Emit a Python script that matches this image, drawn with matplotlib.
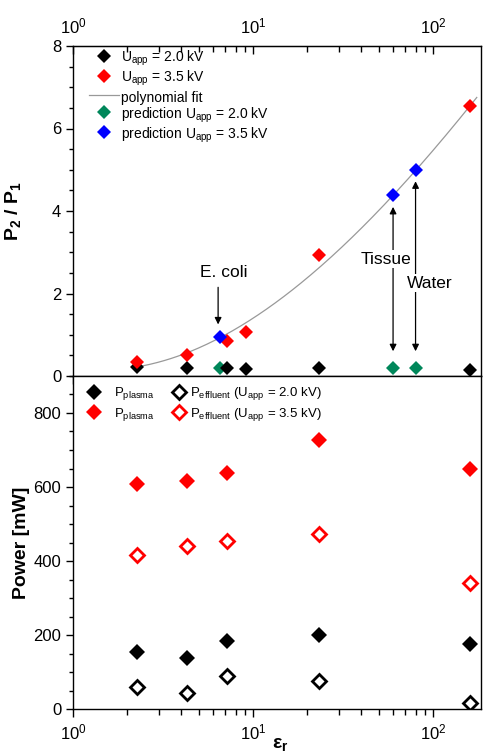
import matplotlib
matplotlib.use("Agg")
import matplotlib.pyplot as plt
from matplotlib.ticker import MultipleLocator, LogLocator, NullFormatter, FixedLocator
import numpy as np

plt.rcParams["font.family"] = ["Liberation Sans", "DejaVu Sans"]
plt.rcParams["mathtext.fontset"] = "custom"
plt.rcParams["mathtext.rm"] = "Liberation Sans"
plt.rcParams["mathtext.it"] = "Liberation Sans:italic"
plt.rcParams["mathtext.bf"] = "Liberation Sans:bold"

# permittivity of the measured liquids
eps_meas = [2.26, 4.31, 7.14, 9.1, 23.2, 161]
ratio_2kV = [0.23, 0.19, 0.19, 0.17, 0.20, 0.15]
ratio_35kV = [0.33, 0.51, 0.86, 1.07, 2.93, 6.55]

# predictions (E. coli, tissue, water)
eps_pred = [6.56, 60, 80]
pred_2kV = [0.19, 0.20, 0.20]
pred_35kV = [0.94, 4.38, 5.0]

# points
fit_eps = [2.26, 6.56, 60, 160.6]
fit_ratio = [0.22, 0.93, 4.38, 6.55]
fit_range = [2.26, 175]

# power panel
eps_power = [2.26, 4.31, 7.14, 23.2, 161]
plasma_2kV = [153, 138, 185, 200, 175]
plasma_35kV = [607, 615, 638, 728, 648]
effluent_2kV = [60, 42, 90, 75, 15]
effluent_35kV = [415, 440, 453, 473, 340]

x_major = [1, 10, 100]

RED = "#ff0000"
BLUE = "#0000ff"
GREEN = "#00875a"

W, H = 483, 753
fig = plt.figure(figsize=(W / 100, H / 100), dpi=100)
left, right = 73 / W, 481 / W
ax1 = fig.add_axes([left, 1 - 376 / H, right - left, 330 / H])
ax2 = fig.add_axes([left, 1 - 709 / H, right - left, 333 / H])

xmax = 10 ** (408 / 180)
minor_loc = LogLocator(base=10, subs=np.arange(2, 10))
for ax in (ax1, ax2):
    ax.set_xscale("log")
    ax.set_xlim(1, xmax)
    ax.xaxis.set_major_locator(FixedLocator(x_major))
    ax.xaxis.set_minor_locator(LogLocator(base=10, subs=np.arange(2, 10)))
    ax.xaxis.set_minor_formatter(NullFormatter())
    for s in ax.spines.values():
        s.set_linewidth(1.0)

ms_top = 7
ax1.plot(eps_meas, ratio_2kV, "D", color="k", ms=ms_top, mew=0, label=r"U$_{\mathrm{app}}$ = 2.0 kV", zorder=4)
ax1.plot(eps_meas, ratio_35kV, "D", color=RED, ms=ms_top, mew=0, label=r"U$_{\mathrm{app}}$ = 3.5 kV", zorder=4)

coef = np.polyfit(np.log10(fit_eps), fit_ratio, 3)
xs = np.logspace(np.log10(fit_range[0]), np.log10(fit_range[1]), 200)
ax1.plot(xs, np.polyval(coef, np.log10(xs)), color="#999999", lw=0.9, label="polynomial fit", zorder=2)

ax1.plot(eps_pred, pred_2kV, "D", color=GREEN, ms=ms_top, mew=0, label=r"prediction U$_{\mathrm{app}}$ = 2.0 kV", zorder=3)
ax1.plot(eps_pred, pred_35kV, "D", color=BLUE, ms=ms_top, mew=0, label=r"prediction U$_{\mathrm{app}}$ = 3.5 kV", zorder=5)

ax1.set_ylim(0, 8)
ax1.yaxis.set_major_locator(MultipleLocator(2))
ax1.yaxis.set_minor_locator(MultipleLocator(0.5))
ax1.tick_params(axis="y", which="both", direction="out", left=True, right=False, labelsize=12)
ax1.tick_params(axis="y", which="major", length=5, width=1)
ax1.tick_params(axis="y", which="minor", length=3, width=1)
ax1.tick_params(axis="x", which="both", direction="out", bottom=True, top=False, labelbottom=False)
ax1.tick_params(axis="x", which="major", length=6, width=1)
ax1.tick_params(axis="x", which="minor", length=4, width=1)

sec = ax1.secondary_xaxis("top")
sec.xaxis.set_major_locator(FixedLocator(x_major))
sec.xaxis.set_minor_locator(minor_loc)
sec.xaxis.set_minor_formatter(NullFormatter())
sec.tick_params(which="both", direction="in", labelsize=12, width=1, pad=7)
sec.tick_params(which="major", length=6)
sec.tick_params(which="minor", length=4)

ax1.set_ylabel(r"$\mathbf{P_2}$ / $\mathbf{P_1}$", fontsize=14, fontweight="bold")
ax1.yaxis.set_label_coords(-0.122, 0.5)

ax1.legend(loc="upper left", bbox_to_anchor=(0.015, 1.02), frameon=False, fontsize=10,
           handlelength=2.15, handleheight=1.4, handletextpad=0.2, labelspacing=0.05,
           borderaxespad=0.3)

arrow = dict(arrowstyle="-|>", lw=0.9, color="k", mutation_scale=10, shrinkA=0, shrinkB=0)
darrow = dict(arrowstyle="<|-|>", lw=0.9, color="k", mutation_scale=10, shrinkA=0, shrinkB=0)
ax1.annotate("", xy=(6.4, 1.25), xytext=(6.4, 2.15), arrowprops=arrow)
ax1.text(6.9, 2.52, "E. coli", ha="center", va="center", fontsize=12.5)
ax1.annotate("", xy=(60, 0.6), xytext=(60, 4.1), arrowprops=darrow, zorder=6)
ax1.text(55, 2.83, "Tissue", ha="center", va="center", fontsize=12.5, zorder=7,
         bbox=dict(facecolor="white", edgecolor="none", pad=1))
ax1.annotate("", xy=(80, 0.6), xytext=(80, 4.72), arrowprops=darrow, zorder=6)
ax1.text(96, 2.25, "Water", ha="center", va="center", fontsize=12.5, zorder=7,
         bbox=dict(facecolor="white", edgecolor="none", pad=1))

ms_bot = 8.5
h1, = ax2.plot(eps_power, plasma_2kV, "D", color="k", ms=ms_bot, mew=0)
h2, = ax2.plot(eps_power, plasma_35kV, "D", color=RED, ms=ms_bot, mew=0)
h3, = ax2.plot(eps_power, effluent_2kV, "D", mfc="white", mec="k", ms=ms_bot - 1, mew=2)
h4, = ax2.plot(eps_power, effluent_35kV, "D", mfc="white", mec=RED, ms=ms_bot - 1, mew=2)

ax2.set_ylim(0, 900)
ax2.yaxis.set_major_locator(MultipleLocator(200))
ax2.yaxis.set_minor_locator(MultipleLocator(50))
ax2.tick_params(axis="y", which="both", direction="out", labelsize=12, width=1)
ax2.tick_params(axis="y", which="major", length=5)
ax2.tick_params(axis="y", which="minor", length=3)
ax2.tick_params(axis="x", which="both", direction="out", top=False, labelsize=12, width=1)
ax2.tick_params(axis="x", which="major", length=6)
ax2.tick_params(axis="x", which="minor", length=4)

ax2.set_ylabel("Power [mW]", fontsize=14, fontweight="bold")
ax2.yaxis.set_label_coords(-0.105, 0.5)
ax2.set_xlabel(r"$\mathbf{\varepsilon_r}$", fontsize=14)
ax2.xaxis.set_label_coords(0.507, -0.08)

# two separate legend blocks, as in the original
leg_a = ax2.legend([h1, h2], [r"P$_{\mathrm{plasma}}$", r"P$_{\mathrm{plasma}}$"],
                   loc="upper left", bbox_to_anchor=(0.005, 1.0), frameon=False, fontsize=9.5,
                   handlelength=1.5, handletextpad=0.75, labelspacing=0.3, borderaxespad=0.3)
ax2.add_artist(leg_a)
ax2.legend([h3, h4],
           [r"P$_{\mathrm{effluent}}$ (U$_{\mathrm{app}}$ = 2.0 kV)",
            r"P$_{\mathrm{effluent}}$ (U$_{\mathrm{app}}$ = 3.5 kV)"],
           loc="upper left", bbox_to_anchor=(0.213, 1.0), frameon=False, fontsize=9.5,
           handlelength=1.5, handletextpad=0.1, labelspacing=0.3, borderaxespad=0.3)

fig.savefig("out.png", dpi=100)
